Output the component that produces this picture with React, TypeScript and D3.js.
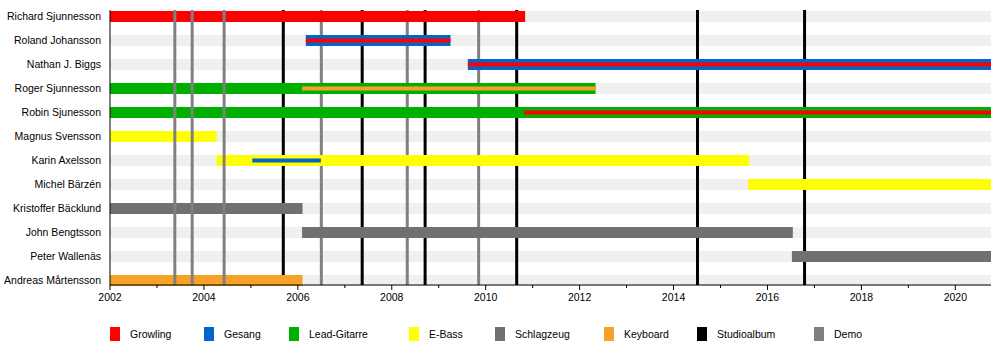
import React from "react";
import * as d3 from "d3";

const members = [
  "Richard Sjunnesson",
  "Roland Johansson",
  "Nathan J. Biggs",
  "Roger Sjunnesson",
  "Robin Sjunesson",
  "Magnus Svensson",
  "Karin Axelsson",
  "Michel Bärzén",
  "Kristoffer Bäcklund",
  "John Bengtsson",
  "Peter Wallenäs",
  "Andreas Mårtensson",
];

const roles = ["Growling", "Gesang", "Lead-Gitarre", "E-Bass", "Schlagzeug", "Keyboard", "Studioalbum", "Demo"];
const roleColors = ["#ff0000", "#0066cc", "#00b000", "#ffff00", "#707070", "#f8a128", "#000000", "#808080"];

const START = 2002;
const END = 2020.76;

const mainBars = [
  { member: "Richard Sjunnesson", role: "Growling", from: 2002, to: 2010.84 },
  { member: "Roland Johansson", role: "Gesang", from: 2006.17, to: 2009.25 },
  { member: "Nathan J. Biggs", role: "Gesang", from: 2009.62, to: END },
  { member: "Roger Sjunnesson", role: "Lead-Gitarre", from: 2002, to: 2012.34 },
  { member: "Robin Sjunesson", role: "Lead-Gitarre", from: 2002, to: END },
  { member: "Magnus Svensson", role: "E-Bass", from: 2002, to: 2004.27 },
  { member: "Karin Axelsson", role: "E-Bass", from: 2004.27, to: 2015.61 },
  { member: "Michel Bärzén", role: "E-Bass", from: 2015.59, to: END },
  { member: "Kristoffer Bäcklund", role: "Schlagzeug", from: 2002, to: 2006.1 },
  { member: "John Bengtsson", role: "Schlagzeug", from: 2006.09, to: 2016.54 },
  { member: "Peter Wallenäs", role: "Schlagzeug", from: 2016.52, to: END },
  { member: "Andreas Mårtensson", role: "Keyboard", from: 2002, to: 2006.1 },
];

const innerBars = [
  { member: "Roland Johansson", role: "Growling", from: 2006.17, to: 2009.25 },
  { member: "Nathan J. Biggs", role: "Growling", from: 2009.62, to: END },
  { member: "Roger Sjunnesson", role: "Keyboard", from: 2006.09, to: 2012.34 },
  { member: "Robin Sjunesson", role: "Growling", from: 2010.82, to: END },
  { member: "Karin Axelsson", role: "Gesang", from: 2005.03, to: 2006.49 },
];

const studioAlbums = [2005.69, 2007.37, 2008.71, 2010.66, 2014.51, 2016.79];
const demosFront = [2003.38, 2003.75, 2004.43];
const demosBack = [2006.5, 2008.33, 2009.85];

const majorTicks = [2002, 2004, 2006, 2008, 2010, 2012, 2014, 2016, 2018, 2020];
const minorTicks = [2003, 2005, 2007, 2009, 2011, 2013, 2015, 2017, 2019];

const legendX = [110, 204, 289, 409, 495, 604, 697, 814];

export default function App() {
  const W = 1000, H = 355;
  const x = d3.scaleLinear().domain([START, END]).range([110, 991]);
  const y = d3.scalePoint<string>().domain(members).range([16.5, 280.5]);
  const color = d3.scaleOrdinal<string, string>().domain(roles).range(roleColors);
  const barH = 11;
  const innerH = 4;
  const top = 10, axisY = 285;
  const font = "'Liberation Sans', Arial, sans-serif";

  const vline = (v: number, c: string, k: string) => (
    <line key={k} x1={x(v)} x2={x(v)} y1={top} y2={axisY} stroke={c} strokeWidth={3} />
  );

  return (
    <svg width={W} height={H} style={{ position: "absolute", left: 0, top: 0 }} fontFamily={font}>
      <rect width={W} height={H} fill="#fff" />
      {members.map((m) => (
        <rect key={"bg" + m} x={x(START)} width={x(END) - x(START)} y={y(m)! - barH / 2} height={barH} fill="#f0f0f0" />
      ))}
      {studioAlbums.map((v, i) => vline(v, color("Studioalbum"), "s" + i))}
      {demosBack.map((v, i) => vline(v, color("Demo"), "db" + i))}
      {mainBars.map((b, i) => (
        <rect key={"b" + i} x={x(b.from)} width={x(b.to) - x(b.from)} y={y(b.member)! - barH / 2} height={barH} fill={color(b.role)} />
      ))}
      {innerBars.map((b, i) => (
        <rect key={"ib" + i} x={x(b.from)} width={x(b.to) - x(b.from)} y={y(b.member)! - innerH / 2} height={innerH} fill={color(b.role)} />
      ))}
      {demosFront.map((v, i) => vline(v, color("Demo"), "df" + i))}
      {members.map((m) => (
        <text key={"l" + m} x={101} y={y(m)!} dy="0.35em" textAnchor="end" fontSize={10.5} fill="#000">
          {m}
        </text>
      ))}
      <line x1={x(START)} x2={x(START)} y1={top} y2={axisY} stroke="#000" strokeWidth={1} />
      <line x1={x(START)} x2={x(END)} y1={axisY} y2={axisY} stroke="#000" strokeWidth={1} />
      {majorTicks.map((t) => (
        <g key={"mt" + t}>
          <line x1={x(t)} x2={x(t)} y1={axisY} y2={axisY + 5} stroke="#000" />
          <text x={x(t)} y={axisY + 16} textAnchor="middle" fontSize={10.5}>
            {t}
          </text>
        </g>
      ))}
      {minorTicks.map((t) => (
        <line key={"nt" + t} x1={x(t)} x2={x(t)} y1={axisY} y2={axisY + 3} stroke="#000" />
      ))}
      {roles.map((r, i) => (
        <g key={"lg" + r}>
          <rect x={legendX[i]} y={327} width={10} height={14} fill={color(r)} />
          <text x={legendX[i] + 20} y={334} dy="0.35em" fontSize={10.5}>
            {r}
          </text>
        </g>
      ))}
    </svg>
  );
}
